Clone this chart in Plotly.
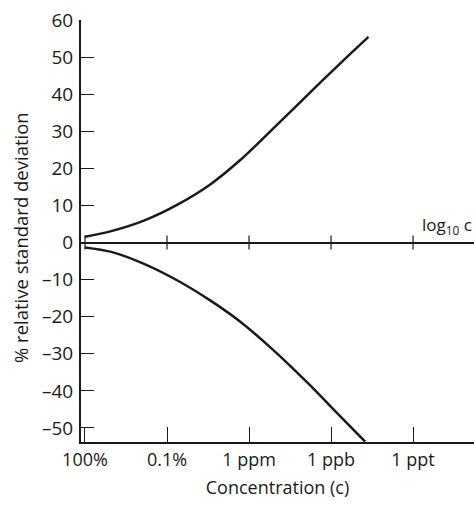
import plotly.graph_objects as go

# x = -log10(c): 0 -> 100%, 3 -> 0.1%, 6 -> 1 ppm, 9 -> 1 ppb, 12 -> 1 ppt
tick_vals = [0, 3, 6, 9, 12]
tick_text = ["100%", "0.1%", "1 ppm", "1 ppb", "1 ppt"]

upper_x = [0, 0.96, 2.18, 3.40, 4.62, 5.67, 6.89, 8.11, 9.33, 10.37]
upper_y = [1.6, 3.1, 6.0, 10.3, 15.9, 22.2, 30.8, 39.6, 48.3, 55.5]

lower_x = [0, 0.96, 2.18, 3.40, 4.62, 5.67, 6.89, 8.11, 9.33, 10.25]
lower_y = [-1.3, -2.5, -5.8, -10.3, -15.8, -21.3, -29.0, -37.6, -46.8, -53.7]

y_tick_vals = [-50, -40, -30, -20, -10, 0, 10, 20, 30, 40, 50, 60]
y_tick_text = ["\u201350", "\u201340", "\u201330", "\u201320", "\u201310", "0",
               "10", "20", "30", "40", "50", "60"]

font_family = "Open Sans, Lato, sans-serif"
ink = "#1a1a1a"

fig = go.Figure()
fig.add_trace(go.Scatter(x=upper_x, y=upper_y, mode="lines",
                         line=dict(color=ink, width=2.5, shape="spline", smoothing=0.9),
                         showlegend=False, hoverinfo="skip"))
fig.add_trace(go.Scatter(x=lower_x, y=lower_y, mode="lines",
                         line=dict(color=ink, width=2.5, shape="spline", smoothing=0.9),
                         showlegend=False, hoverinfo="skip"))

shapes = []
for v in tick_vals:
    shapes.append(dict(type="line", xref="x", yref="y", ysizemode="pixel",
                       yanchor=0, x0=v, x1=v, y0=-7, y1=7,
                       line=dict(color=ink, width=1.2)))

fig.update_layout(
    width=474, height=506,
    margin=dict(l=81, r=0, t=20, b=64),
    paper_bgcolor="white", plot_bgcolor="white",
    font=dict(family=font_family, color=ink, size=17),
    shapes=shapes,
    xaxis=dict(range=[-0.146, 14.23], tickvals=tick_vals, ticktext=tick_text,
               ticks="inside", ticklen=15, tickwidth=1.2, tickcolor=ink,
               showline=True, linewidth=2, linecolor=ink,
               showgrid=False, zeroline=False, automargin=False,
               tickfont=dict(size=18), ticklabeloverflow="allow",
               title=dict(text="Concentration (c)", font=dict(size=18), standoff=12)),
    yaxis=dict(range=[-53.8, 60.05], tickvals=y_tick_vals, ticktext=y_tick_text,
               ticks="inside", ticklen=13, tickwidth=1.2, tickcolor=ink,
               showline=True, linewidth=2, linecolor=ink,
               showgrid=False, zeroline=True, zerolinecolor=ink, zerolinewidth=1.5,
               automargin=False, ticklabeloverflow="allow",
               tickfont=dict(size=19), ticklabelstandoff=2),
    annotations=[
        dict(xref="paper", yref="y", x=1, y=0, xanchor="right", yanchor="bottom",
             yshift=3, showarrow=False,
             text="log<sub>10</sub> c", font=dict(size=17, color=ink)),
        dict(xref="paper", yref="paper", x=0, y=0.5, xanchor="center", yanchor="middle",
             xshift=-61, yshift=-7, textangle=-90, showarrow=False,
             text="% relative standard deviation", font=dict(size=18.5, color=ink)),
    ],
)

fig.write_html("out.html", config={"displayModeBar": False},
               post_script="document.body.style.margin='0';document.body.style.overflow='hidden';")
